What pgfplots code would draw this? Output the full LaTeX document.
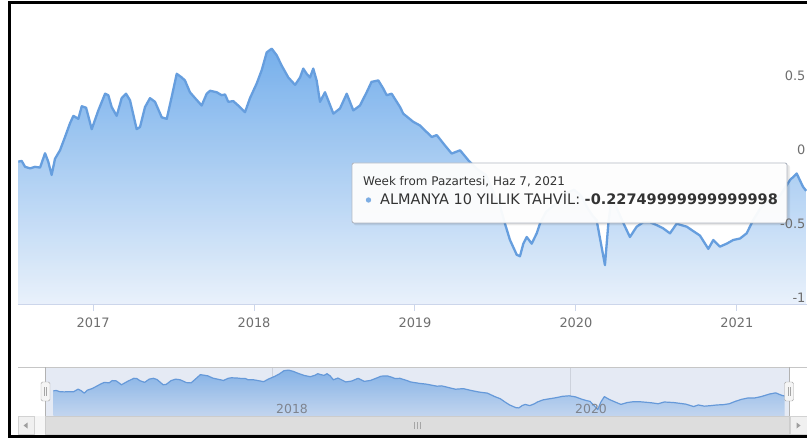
\documentclass[border=0pt]{standalone}
\usepackage{pgfplots}
\pgfplotsset{compat=1.18}
\usepackage{pgfplotstable}
\usepackage{fontspec}
\setmainfont{DejaVu Sans}

\definecolor{linec}{RGB}{102,158,222}
\definecolor{fillt}{RGB}{100,165,233}
\definecolor{fillb}{RGB}{231,240,251}
\definecolor{navt}{RGB}{140,188,238}
\definecolor{navb}{RGB}{214,230,248}
\definecolor{gridc}{RGB}{226,226,226}
\definecolor{axisc}{RGB}{204,214,235}
\definecolor{labc}{RGB}{110,110,110}
\definecolor{tipb}{RGB}{178,184,194}
\definecolor{txtc}{RGB}{51,51,51}
\definecolor{maskc}{RGB}{102,133,194}

% grid below the series, tick labels above it
\pgfplotsset{
  layers/labels over/.define layer set={
    axis background,axis grid,pre main,main,axis ticks,axis lines,axis tick labels,axis descriptions,axis foreground
  }{
    grid style={/pgfplots/on layer=axis grid},
    tick style={/pgfplots/on layer=axis ticks},
    axis line style={/pgfplots/on layer=axis lines},
    label style={/pgfplots/on layer=axis descriptions},
    legend style={/pgfplots/on layer=axis descriptions},
    title style={/pgfplots/on layer=axis descriptions},
    ticklabel style={/pgfplots/on layer=axis tick labels},
    axis background@ style={/pgfplots/on layer=axis background},
  },
}

% weekly yield (year, percent)
\pgfplotstableread{
t v
2016.536 -0.030
2016.557 -0.025
2016.578 -0.065
2016.609 -0.075
2016.640 -0.065
2016.671 -0.070
2016.702 0.027
2016.722 -0.030
2016.743 -0.120
2016.764 -0.010
2016.795 0.047
2016.826 0.137
2016.857 0.230
2016.878 0.280
2016.909 0.260
2016.930 0.345
2016.957 0.335
2016.992 0.190
2017.033 0.317
2017.075 0.430
2017.095 0.420
2017.116 0.340
2017.147 0.280
2017.178 0.400
2017.205 0.430
2017.230 0.385
2017.271 0.190
2017.292 0.205
2017.323 0.340
2017.354 0.400
2017.385 0.375
2017.427 0.270
2017.458 0.260
2017.489 0.410
2017.520 0.565
2017.551 0.540
2017.571 0.520
2017.602 0.440
2017.634 0.400
2017.675 0.350
2017.706 0.430
2017.727 0.450
2017.768 0.440
2017.799 0.420
2017.820 0.425
2017.840 0.375
2017.871 0.380
2017.902 0.350
2017.944 0.305
2017.975 0.400
2018.017 0.500
2018.048 0.590
2018.079 0.710
2018.110 0.735
2018.141 0.690
2018.172 0.620
2018.213 0.540
2018.255 0.490
2018.286 0.540
2018.306 0.600
2018.327 0.565
2018.348 0.540
2018.368 0.600
2018.389 0.520
2018.410 0.375
2018.441 0.440
2018.461 0.385
2018.493 0.295
2018.534 0.330
2018.576 0.430
2018.617 0.317
2018.658 0.350
2018.700 0.440
2018.730 0.510
2018.772 0.520
2018.803 0.465
2018.824 0.420
2018.855 0.430
2018.907 0.340
2018.927 0.295
2018.989 0.240
2019.031 0.215
2019.073 0.170
2019.104 0.137
2019.135 0.150
2019.186 0.080
2019.228 0.025
2019.280 0.047
2019.331 -0.020
2019.385 -0.080
2019.441 -0.120
2019.491 -0.250
2019.528 -0.330
2019.559 -0.450
2019.590 -0.560
2019.632 -0.660
2019.652 -0.670
2019.673 -0.585
2019.694 -0.540
2019.725 -0.585
2019.756 -0.515
2019.776 -0.450
2019.814 -0.370
2019.857 -0.330
2019.901 -0.290
2019.944 -0.240
2019.988 -0.220
2020.031 -0.260
2020.075 -0.350
2020.106 -0.400
2020.128 -0.425
2020.180 -0.730
2020.201 -0.450
2020.224 -0.250
2020.255 -0.350
2020.292 -0.440
2020.335 -0.540
2020.377 -0.470
2020.418 -0.440
2020.460 -0.440
2020.503 -0.460
2020.540 -0.480
2020.584 -0.515
2020.625 -0.450
2020.688 -0.470
2020.770 -0.530
2020.822 -0.620
2020.853 -0.560
2020.894 -0.605
2020.936 -0.585
2020.977 -0.560
2021.019 -0.550
2021.060 -0.515
2021.101 -0.425
2021.143 -0.350
2021.186 -0.300
2021.230 -0.300
2021.273 -0.250
2021.329 -0.155
2021.371 -0.110
2021.410 -0.200
2021.430 -0.2275
}\bund

\begin{document}
\begin{tikzpicture}
\fill[white] (0,0) rectangle (807bp,439bp);

% main chart
\begin{axis}[
  set layers=labels over,
  at={(18bp,134bp)}, anchor=south west,
  scale only axis, width=789bp, height=295.5bp,
  xmin=2016.534, xmax=2021.435, ymin=-1, ymax=1,
  axis x line*=bottom, axis y line*=right,
  x axis line style={draw=axisc, line width=1bp, -},
  y axis line style={draw=none},
  xtick={2017,2018,2019,2020,2021},
  xticklabels={2017,2018,2019,2020,2021},
  ytick={-1,-0.5,0,0.5,1},
  yticklabels={-1,-0.5,0,0.5,},
  ymajorgrids, grid style={draw=gridc, line width=1bp},
  tick align=outside, major tick length=6bp,
  xtick style={draw=axisc, line width=1bp},
  ytick style={draw=none},
  xticklabel style={font=\fontsize{13}{13}\selectfont, text=labc, yshift=-3bp},
  yticklabel style={font=\fontsize{13}{13}\selectfont, text=labc, anchor=south east, xshift=-4bp, yshift=-1.3bp},
  /pgf/number format/assume math mode=true,
]
\addplot[draw=none, top color=fillt, bottom color=fillb, fill opacity=0.88] table[x=t, y=v] {\bund}
  -- (axis cs:2021.430,-1) -- (axis cs:2016.536,-1) -- cycle;
\addplot[draw=linec, line width=2.3bp, line join=round] table[x=t, y=v] {\bund};
\end{axis}

% navigator
\begin{axis}[
  at={(36bp,23bp)}, anchor=south west,
  scale only axis, width=753bp, height=49bp,
  xmin=2016.42, xmax=2021.46, ymin=-0.97, ymax=0.85,
  axis line style={draw=none},
  xtick={2018,2020}, xticklabels={,},
  ytick=\empty,
  xmajorgrids, grid style={draw=gridc, line width=0.8bp},
  xtick style={draw=none},
]
\addplot[draw=none, top color=navt, bottom color=navb] table[x=t, y=v] {\bund}
  -- (axis cs:2021.430,-0.97) -- (axis cs:2016.536,-0.97) -- cycle;
\addplot[draw=linec, line width=1.2bp, line join=round] table[x=t, y=v] {\bund};
\end{axis}

\begin{scope}[x=1bp, y=1bp]
% navigator year labels
\node[anchor=base west, inner sep=0, text=labc!85, font=\fontsize{12.5}{13}\selectfont] at (276,26) {2018};
\node[anchor=base west, inner sep=0, text=labc!85, font=\fontsize{12.5}{13}\selectfont] at (575,26) {2020};
% navigator selection mask and outline
\fill[maskc, opacity=0.17] (45,23) rectangle (789,72);
\draw[gray!45, line width=1] (18,72) -- (807,72);
\draw[gray!60, line width=1] (45,23) -- (45,72);
\draw[gray!60, line width=1] (789,23) -- (789,72);
\draw[gray!70, fill=gray!8, rounded corners=1.5] (41,38) rectangle (50,57);
\draw[gray!70] (44.5,43) -- (44.5,52) (46.5,43) -- (46.5,52);
\draw[gray!70, fill=gray!8, rounded corners=1.5] (784.5,38) rectangle (793.5,57);
\draw[gray!70] (788,43) -- (788,52) (790,43) -- (790,52);

% scrollbar
\fill[gray!7] (18,4) rectangle (807,23);
\draw[gray!40, fill=gray!27] (45,4.5) rectangle (789,22.5);
\draw[gray!70, line width=0.8] (414,10) -- (414,17) (417,10) -- (417,17) (420,10) -- (420,17);
\draw[gray!35, fill=gray!12] (18,4.5) rectangle (34,22.5);
\fill[gray!75] (23.5,13.5) -- (27.5,16.5) -- (27.5,10.5) -- cycle;
\draw[gray!35, fill=gray!12] (790,4.5) rectangle (807,22.5);
\fill[gray!75] (800.5,13.5) -- (796.5,16.5) -- (796.5,10.5) -- cycle;

% tooltip
\fill[black, opacity=0.07, rounded corners=2] (354,213.5) rectangle (790,274);
\fill[black, opacity=0.05, rounded corners=2] (353,214.5) rectangle (788.5,275);
\draw[tipb, fill=white, fill opacity=0.95, rounded corners=2, line width=0.9] (352,216) rectangle (787,276);
\node[anchor=base west, inner sep=0, text=txtc, font=\fontsize{12}{12}\selectfont] at (363,254) {Week from Pazartesi, Haz 7, 2021};
\fill[linec!85] (368.5,239) circle (2.7);
\node[anchor=base west, inner sep=0, text=txtc, font=\fontsize{14.55}{15}\selectfont] at (380,234.5) {ALMANYA 10 YILLIK TAHVİL: \textbf{-0.22749999999999998}};

% screenshot frame
\draw[black, line width=2.5] (9.5,1.8) -- (9.5,436.7);
\draw[black, line width=2.5] (8.25,436.7) -- (807,436.7);
\draw[black, line width=2.5] (8.25,2.5) -- (807,2.5);
\end{scope}
\pgfresetboundingbox
\useasboundingbox (0,0) rectangle (807bp,439bp);
\end{tikzpicture}
\end{document}
